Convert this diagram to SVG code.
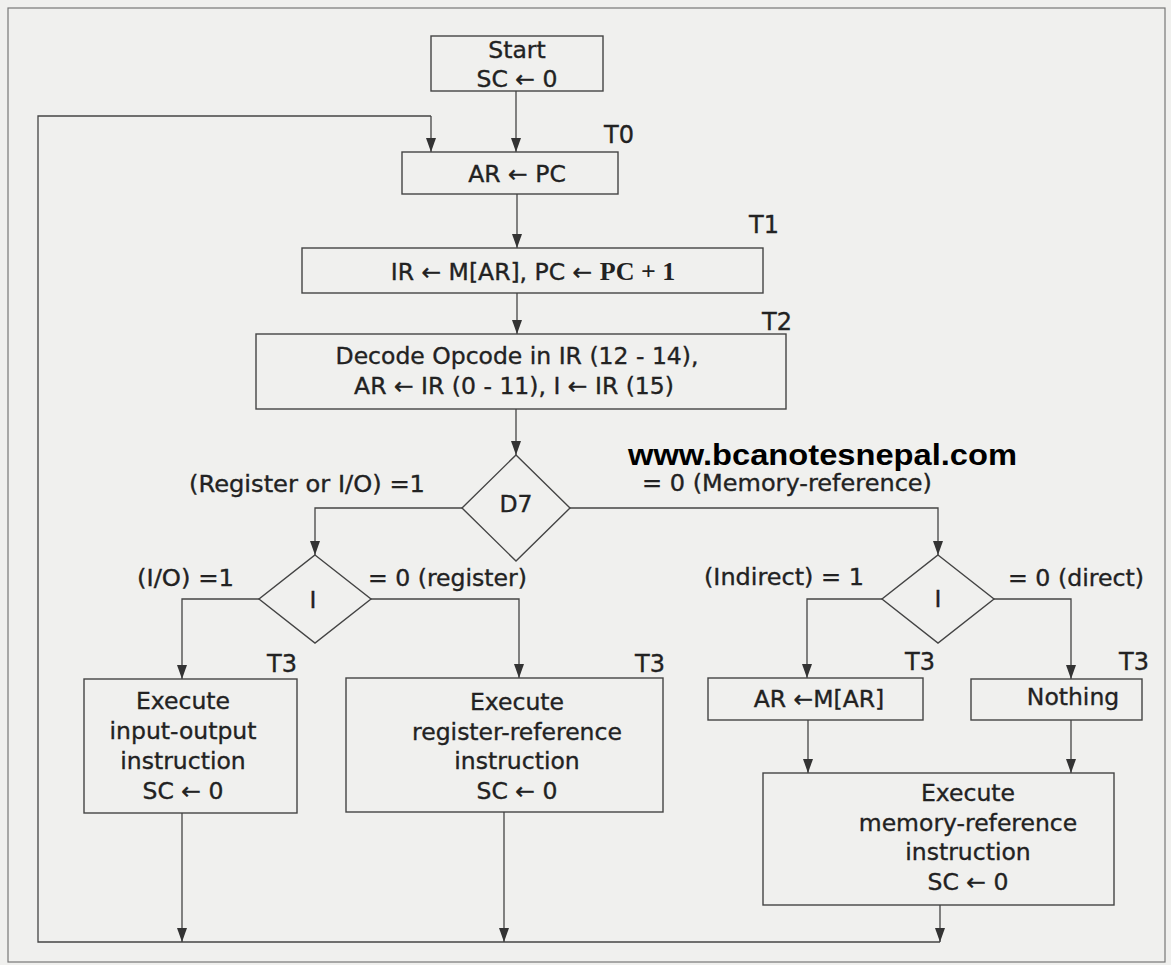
<svg xmlns="http://www.w3.org/2000/svg" width="1171" height="965" viewBox="0 0 1171 965">
<defs>
<marker id="ah" markerUnits="userSpaceOnUse" markerWidth="14" markerHeight="10" refX="14" refY="5" orient="auto" viewBox="0 0 14 10">
<path d="M0,0 L14,5 L0,10 z" fill="#333"/>
</marker>
<style>
.box{fill:none;stroke:#444;stroke-width:1.4}
.ln{fill:none;stroke:#444;stroke-width:1.3}
.ar{fill:none;stroke:#444;stroke-width:1.3;marker-end:url(#ah)}
.t{font-family:"DejaVu Sans",sans-serif;font-size:23.5px;fill:#222;stroke:#222;stroke-width:0.35;text-anchor:middle}
.lb{font-family:"DejaVu Sans",sans-serif;font-size:23.5px;fill:#222;stroke:#222;stroke-width:0.35}
.tm{font-family:"DejaVu Sans",sans-serif;font-size:24px;fill:#222;stroke:#222;stroke-width:0.35}
.url{font-family:"Liberation Sans",Arial,sans-serif;font-weight:bold;font-size:29px;fill:#000}
</style>
</defs>
<rect x="0" y="0" width="1171" height="965" fill="#f0f0ee"/>
<rect x="8" y="8" width="1157" height="954" fill="none" stroke="#777" stroke-width="1.2"/>

<g id="connectors">
<path class="ar" d="M516,91 L516,152"/>
<path class="ln" d="M940,942 L38,942 L38,116 L431,116"/>
<path class="ar" d="M431,116 L431,152"/>
<path class="ar" d="M517,194 L517,248"/>
<path class="ar" d="M517,293 L517,334"/>
<path class="ar" d="M516,409 L516,455"/>
<path class="ar" d="M462,508 L315,508 L315,555"/>
<path class="ar" d="M570,508 L938,508 L938,555"/>
<path class="ar" d="M259,599 L182,599 L182,679"/>
<path class="ar" d="M371,599 L519,599 L519,678"/>
<path class="ar" d="M882,599 L807,599 L807,678"/>
<path class="ar" d="M994,599 L1071,599 L1071,679"/>
<path class="ar" d="M808,720 L808,773"/>
<path class="ar" d="M1071,720 L1071,773"/>
<path class="ar" d="M182,813 L182,942"/>
<path class="ar" d="M504,812 L504,942"/>
<path class="ar" d="M940,905 L940,942"/>
</g>

<g id="start">
<rect class="box" x="431" y="36" width="172" height="55"/>
<text class="t" x="517" y="58">Start</text>
<text class="t" x="517" y="87">SC ← 0</text>
</g>

<g id="t0">
<rect class="box" x="402" y="152" width="216" height="42"/>
<text class="t" x="517" y="182">AR ← PC</text>
<text class="tm" x="604" y="143">T0</text>
</g>

<g id="t1">
<rect class="box" x="302" y="248" width="461" height="45"/>
<text class="t" x="533" y="280">IR ← M[AR], PC ← <tspan font-family="'Liberation Serif',serif" font-size="26px" font-weight="bold" stroke-width="0">PC + 1</tspan></text>
<text class="tm" x="749" y="233">T1</text>
</g>

<g id="t2">
<rect class="box" x="256" y="334" width="530" height="75"/>
<text class="t" x="517" y="364">Decode Opcode in IR (12 - 14),</text>
<text class="t" x="514" y="394">AR ← IR (0 - 11), I ← IR (15)</text>
<text class="tm" x="762" y="330">T2</text>
</g>

<g id="d7">
<polygon class="box" points="516,455 570,508 516,561 462,508"/>
<text class="t" x="516" y="512">D7</text>
<text class="lb" x="189" y="492" textLength="236" lengthAdjust="spacingAndGlyphs">(Register or I/O)  =1</text>
<text class="lb" x="642" y="491" textLength="290" lengthAdjust="spacingAndGlyphs">= 0 (Memory-reference)</text>
</g>

<g id="url">
<text class="url" x="628" y="465" textLength="389" lengthAdjust="spacingAndGlyphs">www.bcanotesnepal.com</text>
</g>

<g id="i-left">
<polygon class="box" points="315,555 371,599 315,643 259,599"/>
<text class="t" x="313" y="608">I</text>
<text class="lb" x="137" y="586" textLength="97" lengthAdjust="spacingAndGlyphs">(I/O) =1</text>
<text class="lb" x="368" y="586" textLength="159" lengthAdjust="spacingAndGlyphs">= 0 (register)</text>
</g>

<g id="i-right">
<polygon class="box" points="938,555 994,599 938,643 882,599"/>
<text class="t" x="938" y="607">I</text>
<text class="lb" x="704" y="585" textLength="160" lengthAdjust="spacingAndGlyphs">(Indirect) = 1</text>
<text class="lb" x="1008" y="586" textLength="136" lengthAdjust="spacingAndGlyphs">= 0 (direct)</text>
</g>

<g id="io">
<rect class="box" x="84" y="679" width="213" height="134"/>
<text class="tm" x="267" y="672">T3</text>
<text class="t" x="183" y="709">Execute</text>
<text class="t" x="183" y="739">input-output</text>
<text class="t" x="183" y="769">instruction</text>
<text class="t" x="183" y="799">SC ← 0</text>
</g>

<g id="register">
<rect class="box" x="346" y="678" width="317" height="134"/>
<text class="tm" x="635" y="672">T3</text>
<text class="t" x="517" y="710">Execute</text>
<text class="t" x="517" y="740">register-reference</text>
<text class="t" x="517" y="769">instruction</text>
<text class="t" x="517" y="799">SC ← 0</text>
</g>

<g id="indirect">
<rect class="box" x="708" y="678" width="215" height="42"/>
<text class="tm" x="905" y="670">T3</text>
<text class="t" x="819" y="707">AR ←M[AR]</text>
</g>

<g id="nothing">
<rect class="box" x="971" y="679" width="171" height="41"/>
<text class="tm" x="1119" y="670">T3</text>
<text class="t" x="1073" y="705">Nothing</text>
</g>

<g id="memory">
<rect class="box" x="763" y="773" width="351" height="132"/>
<text class="t" x="968" y="801">Execute</text>
<text class="t" x="968" y="831">memory-reference</text>
<text class="t" x="968" y="860">instruction</text>
<text class="t" x="968" y="890">SC ← 0</text>
</g>
</svg>
